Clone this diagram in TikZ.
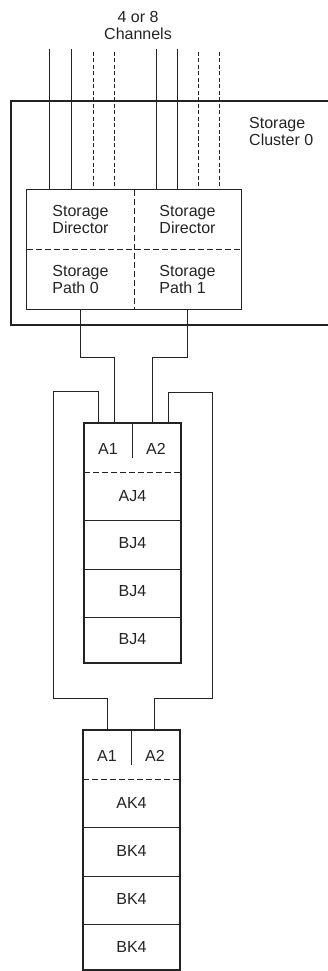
\documentclass[tikz,border=0pt]{standalone}
\usepackage{fontspec}
\setmainfont{Liberation Sans}
\usetikzlibrary{positioning,calc}
\newcommand{\unitstack}[5]{%
  % #1 name, #2 x, #3 y (top), #4 first row label, #5 other row label
  \begin{scope}[shift={(#2,#3)}]
    \node[txt] (#1-a1) at (24,26) {A1};
    \node[txt] (#1-a2) at (72,26) {A2};
    \node[txt] (#1-r1) at (48.5,73) {#4};
    \foreach \i in {2,3,4}
      \node[txt] (#1-r\i) at (48.5,24.5+48*\i) {#5};
    \draw[link] (48,0) -- (48,35); % A1 | A2
    \draw[dashdiv] (0,49) -- (97,49);
    \foreach \y in {97,146,194}
      \draw[link] (0,\y) -- (97,\y);
    \draw[heavy] (0,0) rectangle (97,240);
    \coordinate (#1-nw) at (0,0);
  \end{scope}%
}

\begin{document}
\begin{tikzpicture}[x=1pt,y=-1pt,
  txt/.style={font=\fontsize{16}{17}\selectfont, text=ink, inner sep=0pt},
  cell/.style={txt, align=left, minimum width=107pt, minimum height=59.5pt},
  link/.style={draw=ink, line width=0.8pt},
  heavy/.style={draw=ink, line width=1.8pt},
  dashdiv/.style={draw=ink, line width=0.8pt, dash pattern=on 6pt off 3pt},
  chdash/.style={draw=ink, line width=0.8pt, dash pattern=on 4pt off 2.5pt}]

\definecolor{ink}{RGB}{35,35,35}
\useasboundingbox (0,0) rectangle (328,971);

% ===== CHANNELS =====
\node[txt, align=center] (chlab) at (138,25) {4 or 8\\Channels};

% ===== STORAGE CLUSTER =====
\draw[heavy] (335,101) -| (11,325) -- (335,325);
\node[txt, align=left, anchor=west] (sclab) at (249,131) {Storage\\Cluster 0};

% ===== DIRECTORS / PATHS =====
\node[cell] (sd0) at (80.5,219.5) {Storage\\Director};
\node[cell] (sd1) at (187.5,219.5) {Storage\\Director};
\node[cell] (sp0) at (80.5,279) {Storage\\Path 0};
\node[cell] (sp1) at (187.5,279) {Storage\\Path 1};
\draw[link] (sd0.north west) rectangle (sp1.south east);
\draw[dashdiv] (sd0.south west) -- (sd1.south east);
\draw[dashdiv] (sd0.north east) -- (sp0.south east);

\foreach \x in {49,71,156,177}
  \draw[link] (\x,49) -- (\x,49 |- sd0.north);
\foreach \x in {93,114,198,219}
  \draw[chdash] (\x,52) -- (\x,52 |- sd0.north);

% ===== DEVICE STRINGS =====
\unitstack{u1}{84}{423}{AJ4}{BJ4}
\unitstack{u2}{83}{730}{AK4}{BK4}

\coordinate (u1-in0) at ($(u1-nw)+(30,0)$);
\coordinate (u1-in1) at ($(u1-nw)+(68,0)$);
\coordinate (u1-out0) at ($(u1-nw)+(14,0)$);
\coordinate (u1-out1) at ($(u1-nw)+(84,0)$);
\coordinate (u2-in0) at ($(u2-nw)+(24,0)$);
\coordinate (u2-in1) at ($(u2-nw)+(71,0)$);

% ===== CONNECTIONS =====
\draw[link] (sp0.south) -- ++(0,48) -| (u1-in0);
\draw[link] (sp1.south) -- ++(0,48) -| (u1-in1);
\draw[link] (u1-out0) |- ++(-45,-32) -- ++(0,307) -| (u2-in0);
\draw[link] (u1-out1) |- ++(44,-31) -- ++(0,306) -| (u2-in1);

\end{tikzpicture}
\end{document}
